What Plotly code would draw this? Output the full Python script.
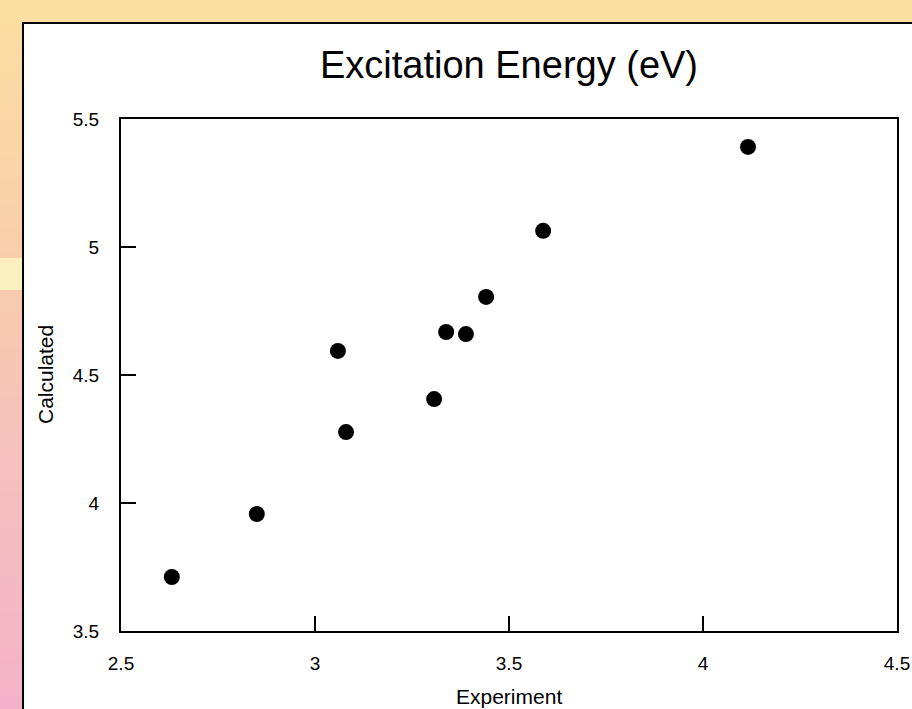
import plotly.graph_objects as go

experiment = [2.631, 2.850, 3.059, 3.080, 3.307, 3.338, 3.389, 3.441, 3.588, 4.116]
calculated = [3.711, 3.957, 4.594, 4.277, 4.406, 4.668, 4.660, 4.805, 5.063, 5.391]

x_ticks = [2.5, 3, 3.5, 4, 4.5]
x_tick_labels = ["2.5", "3", "3.5", "4", "4.5"]
y_ticks = [3.5, 4, 4.5, 5, 5.5]
y_tick_labels = ["3.5", "4", "4.5", "5", "5.5"]

W, H = 912, 709
L, R, T, B = 121, 15, 119, 78
pw, ph = W - L - R, H - T - B


def px_x(p):
    return (p - L) / pw


def px_y(p):
    return (H - B - p) / ph


def lerp(c1, c2, t):
    return tuple(round(a + (b - a) * t) for a, b in zip(c1, c2))


stops = [(0, (251, 223, 160)), (250, (249, 206, 170)), (450, (247, 192, 188)), (709, (244, 178, 202))]


def color_at(y):
    for (y0, c0), (y1, c1) in zip(stops[:-1], stops[1:]):
        if y0 <= y <= y1:
            return lerp(c0, c1, (y - y0) / (y1 - y0))
    return stops[-1][1]


shapes = []
step = 12
for y0 in range(0, H, step):
    c = color_at(y0 + step / 2)
    shapes.append(dict(type="rect", xref="paper", yref="paper",
                       x0=px_x(-5), x1=px_x(W + 5), y0=px_y(y0 + step + 1), y1=px_y(y0),
                       fillcolor="rgb(%d,%d,%d)" % c, line=dict(width=0), layer="below"))
# light band on the left strip
shapes.append(dict(type="rect", xref="paper", yref="paper",
                   x0=px_x(-5), x1=px_x(22), y0=px_y(290), y1=px_y(258),
                   fillcolor="rgb(253,240,192)", line=dict(width=0), layer="below"))
# white panel
shapes.append(dict(type="rect", xref="paper", yref="paper",
                   x0=px_x(23), x1=px_x(W + 20), y0=px_y(H + 20), y1=px_y(23),
                   fillcolor="white", line=dict(color="black", width=2), layer="below"))

fig = go.Figure()
fig.add_trace(go.Scatter(x=experiment, y=calculated, mode="markers",
                         marker=dict(color="black", size=16, line=dict(width=0)),
                         showlegend=False, cliponaxis=False))

font = "Liberation Sans, Arial, Helvetica, sans-serif"
fig.update_layout(
    width=W, height=H, autosize=False,
    margin=dict(l=L, r=R, t=T, b=B, autoexpand=False),
    paper_bgcolor=f"rgb{stops[-1][1]}",
    plot_bgcolor="rgba(0,0,0,0)",
    shapes=shapes,
    font=dict(family=font, color="black"),
    title=dict(text="Excitation Energy (eV)", xref="container", x=509 / W, xanchor="center",
               yref="container", y=1 - 65 / H, yanchor="middle",
               font=dict(size=38, family=font, color="black")),
    annotations=[
        dict(text="Experiment", xref="paper", yref="paper", x=px_x(509), y=px_y(696),
             xanchor="center", yanchor="middle", showarrow=False, font=dict(size=21)),
        dict(text="Calculated", xref="paper", yref="paper", x=px_x(45), y=px_y(375),
             xanchor="center", yanchor="middle", textangle=-90, showarrow=False,
             font=dict(size=21)),
    ],
)
fig.update_xaxes(
    range=[2.5, 4.5], tickmode="array", tickvals=x_ticks, ticktext=x_tick_labels,
    ticks="inside", ticklen=15, tickwidth=2, tickcolor="black",
    showline=True, linecolor="black", linewidth=2, mirror=True,
    showgrid=False, zeroline=False, tickfont=dict(size=19),
    ticklabelstandoff=14, automargin=False,
)
fig.update_yaxes(
    range=[3.5, 5.5], tickmode="array", tickvals=y_ticks, ticktext=y_tick_labels,
    ticks="inside", ticklen=15, tickwidth=2, tickcolor="black",
    showline=True, linecolor="black", linewidth=2, mirror=True,
    showgrid=False, zeroline=False, tickfont=dict(size=19),
    ticklabelstandoff=16, automargin=False,
)

fig.write_html(
    "out.html",
    config={"responsive": False, "displayModeBar": False},
    post_script="document.body.style.margin='0';document.body.style.overflow='hidden';",
)
